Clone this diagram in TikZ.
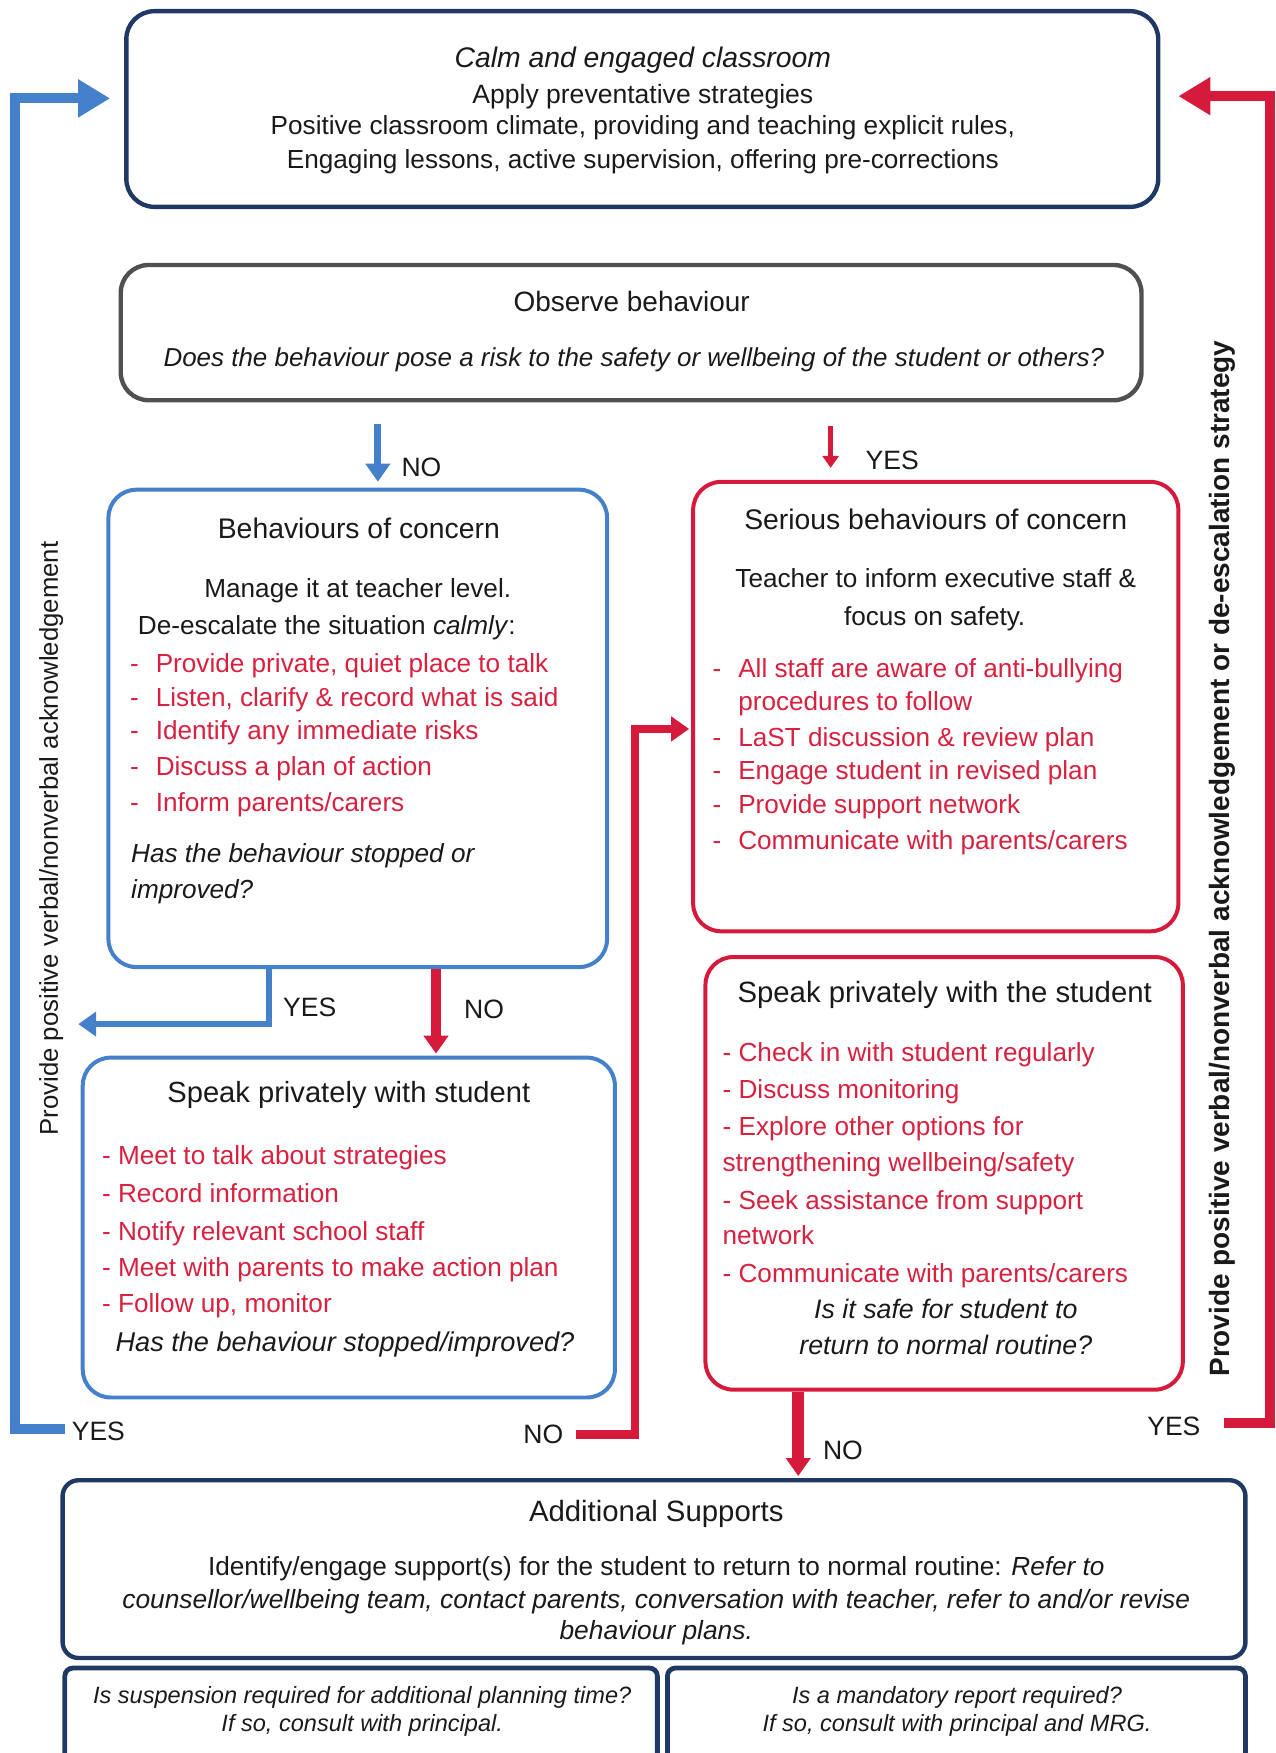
\documentclass[tikz,border=0pt]{standalone}
\usepackage{fontspec}
\setmainfont{Liberation Sans}
\usetikzlibrary{arrows.meta,fit}
\definecolor{navy}{HTML}{1F3864}
\definecolor{bblue}{HTML}{4580CA}
\definecolor{rred}{HTML}{D61A3C}
\definecolor{tred}{HTML}{D8203F}
\definecolor{dgray}{HTML}{505050}
\definecolor{ink}{HTML}{1A1A1A}
\newcommand{\fsz}[1]{\fontsize{#1}{#1}\selectfont}
\begin{document}
\begin{tikzpicture}[x=0.56pt,y=-0.56pt,
  box/.style={draw, rounded corners=14pt, inner sep=0pt, line width=2pt},
  navybox/.style={box, draw=navy, line width=2.2pt},
  graybox/.style={box, draw=dgray, line width=2.2pt},
  bluebox/.style={box, draw=bblue, line width=2pt},
  redbox/.style={box, draw=rred, line width=2pt},
  sqbox/.style={draw=navy, line width=2.4pt, rounded corners=4pt, inner sep=0pt},
  txt/.style={inner sep=0pt, yshift=-1.6pt, text=ink, font=\fsz{13.1}},
  itx/.style={txt, font=\fsz{13.1}\itshape},
  ttl/.style={txt, font=\fsz{14.4}},
  rtxt/.style={txt, text=tred},
  lbl/.style={inner sep=0pt, text=ink, font=\fsz{13.3}},
  bigtip/.style={-{Triangle[length=16pt,width=18pt]}},
  midtip/.style={-{Triangle[length=9pt,width=12pt]}},
  smalltip/.style={-{Triangle[length=6pt,width=8pt]}},
]
\useasboundingbox (0,0) rectangle (1141,1568);
% boxes
\node[navybox, fit={(113,10) (1036,185)}] (top) {};
\node[graybox, fit={(108,237) (1021,358)}] (observe) {};
\node[bluebox, fit={(97,438) (543,865)}] (boc) {};
\node[bluebox, fit={(74,946) (550,1250)}] (sps) {};
\node[redbox, fit={(620,431) (1054,833)}] (sboc) {};
\node[redbox, fit={(631,856) (1058,1243)}] (spts) {};
\node[navybox, rounded corners=8pt, fit={(56,1324) (1114,1483)}] (add) {};
\begin{scope}
\clip (0,1480) rectangle (1141,1568);
\node[sqbox, fit={(58,1492) (588,1620)}] (susp) {};
\node[sqbox, fit={(597,1492) (1114,1620)}] (mand) {};
\end{scope}

% top box text
\node[itx, anchor=mid, font=\fsz{14.2}\itshape] (t1) at (575,53) {Calm and engaged classroom};
\node[txt, anchor=mid, font=\fsz{13.3}] (t2) at (575,85) {Apply preventative strategies};
\node[txt, anchor=mid] (t3) at (575,113) {Positive classroom climate, providing and teaching explicit rules,};
\node[txt, anchor=mid] (t4) at (575,143) {Engaging lessons, active supervision, offering pre-corrections};

% observe
\node[ttl, anchor=mid, font=\fsz{14}] (o1) at (565,271) {Observe behaviour};
\node[itx, anchor=mid, font=\fsz{13}\itshape] (o2) at (567,320) {Does the behaviour pose a risk to the safety or wellbeing of the student or others?};

% behaviours of concern
\node[ttl, anchor=mid, font=\fsz{14.2}] (b1) at (321,474) {Behaviours of concern};
\node[txt, anchor=mid] (b2) at (320,527) {Manage it at teacher level.};
\node[txt, anchor=mid west] (b3) at (123,560) {De-escalate the situation \textit{calmly}:};
\foreach \y/\s [count=\i] in {594/{Provide private, quiet place to talk},624/{Listen, clarify \& record what is said},654/{Identify any immediate risks},686/{Discuss a plan of action},718/{Inform parents/carers}}{
  \node[rtxt, anchor=mid west] (bd\i) at (116,\y) {-};
  \node[rtxt, anchor=mid west] (bl\i) at (139,\y) {\s};
}
\node[itx, anchor=mid west] (b4) at (117,764) {Has the behaviour stopped or};
\node[itx, anchor=mid west] (b5) at (117,796) {improved?};

% speak privately with student
\node[ttl, anchor=mid, font=\fsz{14.6}] (s1) at (312,979) {Speak privately with student};
\foreach \y/\s [count=\i] in {1034/{Meet to talk about strategies},1068/{Record information},1102/{Notify relevant school staff},1134/{Meet with parents to make action plan},1166/{Follow up, monitor}}{
  \node[rtxt, anchor=mid west] (sl\i) at (91,\y) {- \s};
}
\node[itx, anchor=mid west, font=\fsz{13.6}\itshape] (s2) at (103,1201) {Has the behaviour stopped/improved?};

% serious behaviours
\node[ttl, anchor=mid, font=\fsz{14.2}] (r1) at (837,466) {Serious behaviours of concern};
\node[txt, anchor=mid] (r2) at (837,518) {Teacher to inform executive staff \&};
\node[txt, anchor=mid] (r3) at (836,552) {focus on safety.};
\foreach \y/\s/\d [count=\i] in {598/{All staff are aware of anti-bullying}/-,628/{procedures to follow}/{},660/{LaST discussion \& review plan}/-,690/{Engage student in revised plan}/-,720/{Provide support network}/-,752/{Communicate with parents/carers}/-}{
  \node[rtxt, anchor=mid west] (rd\i) at (637,\y) {\d};
  \node[rtxt, anchor=mid west] (rl\i) at (660,\y) {\s};
}

% speak privately with the student
\node[ttl, anchor=mid, font=\fsz{14.7}] (p1) at (845,889) {Speak privately with the student};
\foreach \y/\s [count=\i] in {942/{- Check in with student regularly},975/{- Discuss monitoring},1008/{- Explore other options for},1040/{strengthening wellbeing/safety},1074/{- Seek assistance from support},1106/{network},1140/{- Communicate with parents/carers}}{
  \node[rtxt, anchor=mid west] (pl\i) at (646,\y) {\s};
}
\node[itx, anchor=mid, font=\fsz{13.4}\itshape] (p2) at (846,1172) {Is it safe for student to};
\node[itx, anchor=mid, font=\fsz{13.4}\itshape] (p3) at (846,1204) {return to normal routine?};

% additional supports
\node[ttl, anchor=mid, font=\fsz{14.7}] (a1) at (587,1353) {Additional Supports};
\node[txt, anchor=mid] (a2) at (587,1402) {Identify/engage support(s) for the student to return to normal routine: \textit{Refer to}};
\node[itx, anchor=mid, font=\fsz{13.2}\itshape] (a3) at (587,1431) {counsellor/wellbeing team, contact parents, conversation with teacher, refer to and/or revise};
\node[itx, anchor=mid, font=\fsz{13.2}\itshape] (a4) at (587,1459) {behaviour plans.};

\node[itx, anchor=mid, font=\fsz{11.8}\itshape] (q1) at (324,1516) {Is suspension required for additional planning time?};
\node[itx, anchor=mid, font=\fsz{11.8}\itshape] (q2) at (324,1541) {If so, consult with principal.};
\node[itx, anchor=mid, font=\fsz{11.8}\itshape] (q3) at (856,1516) {Is a mandatory report required?};
\node[itx, anchor=mid, font=\fsz{11.8}\itshape] (q4) at (856,1541) {If so, consult with principal and MRG.};

% rotated side texts
\node[inner sep=0pt, text=ink, rotate=90, anchor=mid, font=\fsz{12.9}] (lside) at (47,750) {Provide positive verbal/nonverbal acknowledgement};
\node[inner sep=0pt, text=ink, rotate=90, anchor=mid, font=\fsz{14}\bfseries] (rside) at (1095,768) {Provide positive verbal/nonverbal acknowledgement or de-escalation strategy};

% labels
\node[lbl] (lno1) at (377,418) {NO};
\node[lbl] (lyes1) at (798,412) {YES};
\node[lbl] (lyes2) at (277,901) {YES};
\node[lbl] (lno2) at (433,903) {NO};
\node[lbl] (lyes3) at (88,1280) {YES};
\node[lbl] (lno3) at (486,1283) {NO};
\node[lbl] (lno4) at (754,1297) {NO};
\node[lbl] (lyes4) at (1050,1276) {YES};

% coordinates
\coordinate (cno) at (338,0);
\coordinate (cyes) at (743,0);
\coordinate (cbyes) at (241,0);
\coordinate (cbno) at (390,0);
\coordinate (byesend) at (70,916);
\coordinate (lstart) at (58,1278);
\coordinate (lcorner) at (13,88);
\coordinate (rnostart) at (515,1283);
\coordinate (rnocorner) at (568,652);
\coordinate (pno) at (714,0);
\coordinate (rstart) at (1095,1273);
\coordinate (rcorner) at (1136,86);

% connectors
\draw[bblue, line width=3.4pt, midtip, shorten <=11pt, shorten >=3pt] (observe.south -| cno) -- (boc.north -| cno);
\draw[rred, line width=2.6pt, smalltip, shorten <=12pt, shorten >=6pt] (observe.south -| cyes) -- (sboc.north -| cyes);
\draw[bblue, line width=3pt, midtip] (boc.south -| cbyes) |- (byesend);
\draw[rred, line width=5pt, midtip, shorten >=1pt] (boc.south -| cbno) -- (sps.north -| cbno);
\draw[bblue, line width=5pt, bigtip, shorten >=7pt] (lstart) -| (lcorner) -- (lcorner -| top.west);
\draw[rred, line width=4.4pt, midtip, shorten >=1pt] (rnostart) -| (rnocorner) -- (rnocorner -| sboc.west);
\draw[rred, line width=6pt, midtip, shorten >=1pt] (spts.south -| pno) -- (add.north -| pno);
\draw[rred, line width=5pt, bigtip, shorten >=9pt] (rstart) -| (rcorner) -- (rcorner -| top.east);
\end{tikzpicture}
\end{document}
